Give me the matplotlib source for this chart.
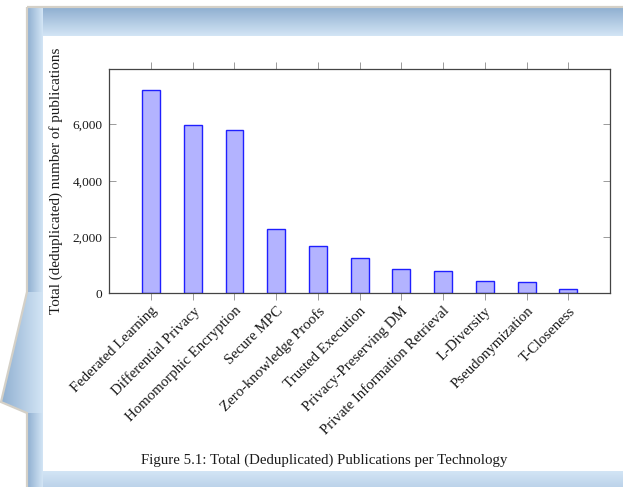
import matplotlib.pyplot as plt
import numpy as np
from matplotlib.patches import Polygon, Rectangle

# values
technologies = [
    "Federated Learning",
    "Differential Privacy",
    "Homomorphic Encryption",
    "Secure MPC",
    "Zero-knowledge Proofs",
    "Trusted Execution",
    "Privacy-Preserving DM",
    "Private Information Retrieval",
    "L-Diversity",
    "Pseudonymization",
    "T-Closeness",
]
publications = [7240, 5965, 5800, 2270, 1680, 1250, 850, 800, 430, 395, 170]
ytick_values = [0, 2000, 4000, 6000]
ytick_labels = ["0", "2,000", "4,000", "6,000"]
caption = "Figure 5.1: Total (Deduplicated) Publications per Technology"

W, H = 623, 487
plt.rcParams["font.family"] = ["Liberation Serif", "DejaVu Serif"]
TEXT = "#1a1a1a"


def hexrgb(h):
    h = h.lstrip("#")
    return np.array([int(h[i:i + 2], 16) / 255 for i in (0, 2, 4)])


def gradient(ax, x0, x1, y0, y1, c_start, c_end, vertical, clip):
    # c_start sits at x0 (horizontal) or y0 (vertical, y grows downwards)
    t = np.linspace(0, 1, 64)[:, None]
    cols = hexrgb(c_start) * (1 - t) + hexrgb(c_end) * t
    img = cols[:, None, :] if vertical else cols[None, :, :]
    im = ax.imshow(img, extent=(x0, x1, y1, y0), origin="upper", aspect="auto",
                   interpolation="bilinear", zorder=1)
    im.set_clip_path(clip)


def main():
    fig = plt.figure(figsize=(W / 100, H / 100), dpi=100)

    # page / callout background
    bg = fig.add_axes([0, 0, 1, 1])
    bg.set_xlim(0, W)
    bg.set_ylim(H, 0)
    bg.axis("off")
    outline = [(27, 7), (W + 2, 7), (W + 2, H + 2), (27, H + 2), (27, 413), (1, 402), (27, 292)]
    frame = Polygon(outline, closed=True, facecolor="#d3e5f5", edgecolor="none", zorder=0)
    bg.add_patch(frame)
    light = "#d3e5f5"
    gradient(bg, 0, W, 7, 36, "#8eaed0", light, True, frame)
    gradient(bg, 27, 43, 7, H, "#8eaed0", light, False, frame)
    gradient(bg, 0, 43, 292, 413, "#8eaed0", light, False, frame)
    gradient(bg, 43, W, 471, H, light, "#bcd3ea", True, frame)
    bg.add_patch(Polygon(outline, closed=True, facecolor="none", edgecolor="#d4d0c7",
                         lw=1.6, zorder=2))
    bg.add_patch(Rectangle((43, 36), W - 43, 435, facecolor="white", edgecolor="none", zorder=3))
    bg.text(324.5, 460, caption, ha="center", va="center", fontsize=10.7, color=TEXT, zorder=4)

    # bar chart
    left, right, top, bottom = 109.3, 610, 69.3, 293.3
    ax = fig.add_axes([left / W, 1 - bottom / H, (right - left) / W, (bottom - top) / H])
    x = np.arange(len(technologies))
    ax.bar(x, publications, width=0.43, color="#b3b3ff", edgecolor="#1f1fff", linewidth=1.0)
    ax.set_xlim(-1, len(technologies))
    ax.set_ylim(0, 7960)

    ax.set_yticks(ytick_values)
    ax.set_yticklabels(ytick_labels, fontsize=9.6, color=TEXT)
    ax.set_xticks(x)
    ax.set_xticklabels(technologies, rotation=45, ha="right", va="top",
                       rotation_mode="anchor", fontsize=10.7, color=TEXT)
    ax.tick_params(axis="x", direction="out", length=5, width=0.6, color="#8a8a8a",
                   top=True, pad=3)
    ax.tick_params(axis="y", direction="in", length=5, width=0.6, color="#8a8a8a",
                   right=True, pad=5)
    for s in ax.spines.values():
        s.set_color("#444444")
        s.set_linewidth(0.9)

    ax.set_ylabel("Total (deduplicated) number of publications", fontsize=10.9, color=TEXT)
    ax.yaxis.set_label_coords(-(left - 63) / (right - left), 0.5)

    fig.savefig("out.png", dpi=100)


if __name__ == "__main__":
    main()
